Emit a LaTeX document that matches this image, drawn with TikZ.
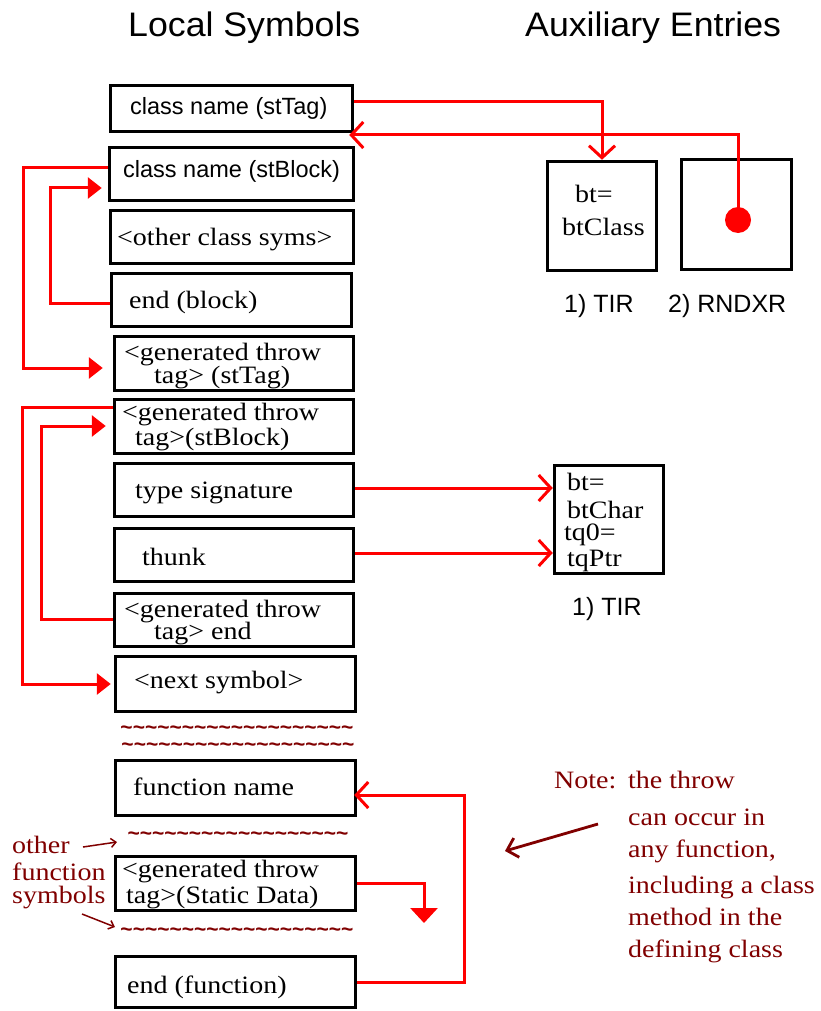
\documentclass[tikz,border=0pt]{standalone}
\usepackage{fontspec}
\setmainfont{Liberation Serif}[FakeStretch=1.12]
\newfontfamily\sansf{Liberation Sans}
\newfontfamily\headf{Liberation Sans}[FakeStretch=1.05]
\usetikzlibrary{arrows.meta,calc}
\definecolor{lnred}{RGB}{255,0,0}
\definecolor{notered}{RGB}{128,0,0}
\newcommand{\tildes}[1]{\foreach \k in {1,...,#1}{\textasciitilde}}
\begin{document}
\begin{tikzpicture}[x=1pt,y=-1pt,
  sym/.style={draw, line width=3.5pt, inner sep=0pt},
  txt/.style={anchor=base west, inner sep=0pt, font=\fontsize{25}{25}\selectfont},
  stxt/.style={anchor=base west, inner sep=0pt, font=\sansf\fontsize{23.5}{25}\selectfont},
  head/.style={anchor=base west, inner sep=0pt, font=\headf\fontsize{34}{36}\selectfont},
  ntxt/.style={anchor=base west, inner sep=0pt, text=notered, font=\fontsize{25}{25}\selectfont},
  tilde/.style={inner sep=0pt, text=notered, font=\sansf\bfseries\fontsize{21}{22}\selectfont},
  rl/.style={draw=lnred, line width=3pt},
  openarr/.style={-{Straight Barb[length=12pt,width=26pt]}},
  fillarr/.style={-{Triangle[length=14pt,width=21pt]}},
  nl/.style={draw=notered, line width=2.8pt, -{Straight Barb[length=10pt,width=20pt]}},
  sl/.style={draw=notered, line width=1.5pt, -{Straight Barb[length=5pt,width=9pt]}}
]
\useasboundingbox (0,0) rectangle (820,1011);

% headings
\node[head] (h1) at (128,37) {Local Symbols};
\node[head] (h2) at (525,37) {Auxiliary Entries};

% symbol boxes
\node[sym, minimum width=242pt, minimum height=46pt] (b1) at (231.5,108.5) {};
\node[sym, minimum width=244pt, minimum height=53pt] (b2) at (231.5,174) {};
\node[sym, minimum width=243pt, minimum height=53pt] (b3) at (232,237) {};
\node[sym, minimum width=240pt, minimum height=53pt] (b4) at (231.5,300) {};
\node[sym, minimum width=239pt, minimum height=54pt] (b5) at (234,363.5) {};
\node[sym, minimum width=239pt, minimum height=54pt] (b6) at (234,426.5) {};
\node[sym, minimum width=239pt, minimum height=53pt] (b7) at (234,490) {};
\node[sym, minimum width=239pt, minimum height=53pt] (b8) at (234,555) {};
\node[sym, minimum width=239pt, minimum height=53pt] (b9) at (234,620) {};
\node[sym, minimum width=240pt, minimum height=55pt] (b10) at (235.5,684) {};
\node[sym, minimum width=240pt, minimum height=55pt] (fn) at (235.5,788) {};
\node[sym, minimum width=240pt, minimum height=54pt] (sd) at (235.5,883.5) {};
\node[sym, minimum width=240pt, minimum height=51pt] (ef) at (235.5,982) {};

% box texts
\node[stxt] (t1) at (130,115) {class name (stTag)};
\node[stxt] (t2) at (123,178) {class name (stBlock)};
\node[txt] (t3) at (117,245) {<other class syms>};
\node[txt] (t4) at (129,308) {end (block)};
\node[txt] (t5a) at (124,360) {<generated throw};
\node[txt] (t5b) at (154,383) {tag> (stTag)};
\node[txt] (t6a) at (122,420) {<generated throw};
\node[txt] (t6b) at (135,445) {tag>(stBlock)};
\node[txt] (t7) at (135,498) {type signature};
\node[txt] (t8) at (142,565) {thunk};
\node[txt] (t9a) at (124,617) {<generated throw};
\node[txt] (t9b) at (154,639) {tag> end};
\node[txt] (t10) at (134,688) {<next symbol>};
\node[txt] (tfn) at (133,795) {function name};
\node[txt] (tsda) at (122,877) {<generated throw};
\node[txt] (tsdb) at (126,903) {tag>(Static Data)};
\node[txt] (tef) at (127,993) {end (function)};

% tildes
\node[tilde] (w1) at (237,730) {\tildes{19}};
\node[tilde] (w2) at (238,747) {\tildes{19}};
\node[tilde] (w3) at (238,836) {\tildes{18}};
\node[tilde] (w4) at (237,932) {\tildes{19}};

% auxiliary boxes
\node[sym, minimum width=109pt, minimum height=109pt] (tir1) at (602,216) {};
\node[sym, minimum width=110pt, minimum height=110pt] (rnd) at (736.5,214.5) {};
\node[sym, minimum width=109pt, minimum height=108pt] (tir2) at (609,519.5) {};
\node[txt] (a1) at (575,202) {bt=};
\node[txt] (a2) at (562,235) {btClass};
\node[txt] (c1) at (567,490) {bt=};
\node[txt] (c2) at (567,518) {btChar};
\node[txt] (c3) at (564,540) {tq0=};
\node[txt] (c4) at (567,566) {tqPtr};
\node[stxt, font=\sansf\fontsize{25}{25}\selectfont] (l1) at (564,312) {1) TIR};
\node[stxt, font=\sansf\fontsize{25}{25}\selectfont] (l2) at (668,312) {2) RNDXR};
\node[stxt, font=\sansf\fontsize{25}{25}\selectfont] (l3) at (572,615) {1) TIR};
\node[circle, fill=lnred, minimum size=26pt, inner sep=0pt] (dot) at (738,220) {};

% red connectors
\draw[rl, openarr] (b1.east |- 0,102) -| (tir1.north);
\draw[rl, openarr, shorten >=-5pt] (dot.center) |- (b1.east |- 0,135);
\draw[rl, fillarr, shorten >=10pt] (b2.west |- 0,168) -- (23,168) |- (b5.west |- 0,368);
\draw[rl, fillarr, shorten >=6pt] (b4.west |- 0,303) -- (50,303) |- (b2.west |- 0,188);
\draw[rl, fillarr, shorten >=3pt] (b6.west |- 0,407) -- (22,407) |- (b10.west |- 0,684);
\draw[rl, fillarr, shorten >=7pt] (b9.west |- 0,619) -- (41,619) |- (b6.west |- 0,426);
\draw[rl, openarr] (b7.east |- 0,488) -- (tir2.west |- 0,488);
\draw[rl, openarr] (b8.east |- 0,553) -- (tir2.west |- 0,553);
\draw[rl, openarr, shorten >=-3pt] (ef.east |- 0,982) -- (464,982) |- (fn.east |- 0,795);
\coordinate (sdend) at (424,923);
\draw[rl, -{Triangle[length=15pt,width=27pt]}] (sd.east |- 0,883) -| (sdend);

% side annotation
\node[ntxt] (o1) at (12,853) {other};
\node[ntxt] (o2) at (12,880) {function};
\node[ntxt] (o3) at (12,903) {symbols};
\coordinate (o1a) at (83,847);
\coordinate (o1b) at (117,842);
\coordinate (o3a) at (82,914);
\coordinate (o3b) at (115,927);
\draw[sl] (o1a) -- (o1b);
\draw[sl] (o3a) -- (o3b);

% note
\node[ntxt] (n0) at (554,788) {Note:};
\node[ntxt] (n1) at (628,788) {the throw};
\node[ntxt] (n2) at (628,825) {can occur in};
\node[ntxt] (n3) at (628,857) {any function,};
\node[ntxt] (n4) at (628,893) {including a class};
\node[ntxt] (n5) at (628,925) {method in the};
\node[ntxt] (n6) at (628,957) {defining class};
\coordinate (na) at (598,824);
\coordinate (nb) at (505,851);
\draw[nl] (na) -- (nb);
\end{tikzpicture}
\end{document}
